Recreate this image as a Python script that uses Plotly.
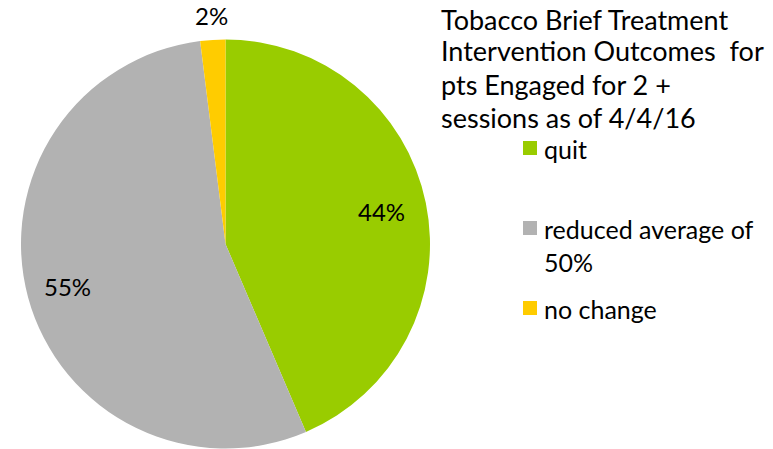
import math
import plotly.graph_objects as go

# Outcome categories and their shares (%)
labels = ["quit", "reduced average of<br>50%", "no change"]
values = [44, 55, 2]
colors = ["#99CC00", "#B2B2B2", "#FFCC00"]
# radial placement of each percentage label, as a fraction of the pie radius
label_radius = [0.78, 0.80, 1.12]

title_lines = ["Tobacco Brief Treatment", "Intervention Outcomes  for",
               "pts Engaged for 2 +", "sessions as of 4/4/16"]

W, H = 773, 449
FONT = "Lato, 'Open Sans', sans-serif"

# pie geometry in pixels (from top-left)
CX, CY, R = 225.5, 244.0, 204.5

fig = go.Figure(
    go.Pie(
        labels=labels,
        values=values,
        marker=dict(colors=colors, line=dict(width=0)),
        sort=False,
        direction="clockwise",
        rotation=0,
        textinfo="none",
        showlegend=False,
        hoverinfo="label+value",
        domain=dict(x=[(CX - R) / W, (CX + R) / W],
                    y=[(H - CY - R) / H, (H - CY + R) / H]),
    )
)

# percentage labels at each slice's mid-angle (clockwise from 12 o'clock)
total = sum(values)
start = 0.0
for v, rf in zip(values, label_radius):
    span = 360.0 * v / total
    mid = math.radians(start + span / 2)
    start += span
    px = CX + rf * R * math.sin(mid)
    py = CY - rf * R * math.cos(mid)
    fig.add_annotation(
        text=f"{v}%", xref="paper", yref="paper",
        x=px / W, y=1 - py / H, xanchor="center", yanchor="middle",
        showarrow=False,
        font=dict(family=FONT, size=24, color="#000000"),
    )

# Title block at upper right, one line at a time
title_rows = [19, 51, 84, 117]
for line, yc in zip(title_lines, title_rows):
    fig.add_annotation(
        text=line, xref="paper", yref="paper",
        x=439 / W, y=1 - yc / H, xanchor="left", yanchor="middle",
        align="left", showarrow=False,
        font=dict(family=FONT, size=27, color="#000000"),
    )

# Legend: colour swatches with their labels
legend_rows = [148, 228, 308]
for lab, col, yc in zip(labels, colors, legend_rows):
    fig.add_shape(
        type="rect", xref="paper", yref="paper",
        x0=523 / W, x1=537 / W, y0=1 - (yc + 7) / H, y1=1 - (yc - 7) / H,
        fillcolor=col, line=dict(width=0),
    )
    fig.add_annotation(
        text=lab, xref="paper", yref="paper",
        x=542 / W, y=1 - (yc - 16) / H, xanchor="left", yanchor="top",
        align="left", showarrow=False,
        font=dict(family=FONT, size=25, color="#000000"),
    )

fig.update_layout(
    width=W, height=H,
    margin=dict(l=0, r=0, t=0, b=0),
    paper_bgcolor="#FFFFFF",
    plot_bgcolor="#FFFFFF",
)

fig.write_html("out.html")
